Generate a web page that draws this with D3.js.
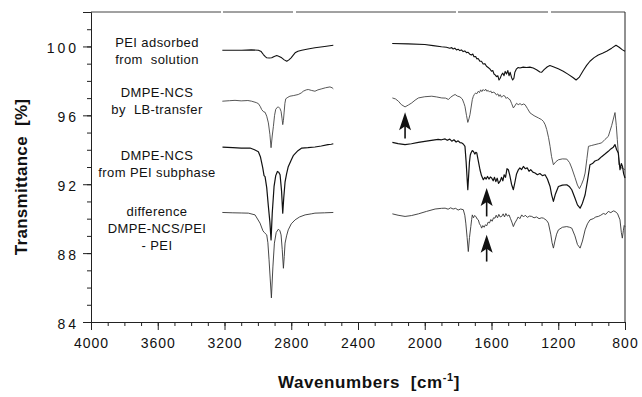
<!DOCTYPE html>
<html>
<head>
<meta charset="utf-8">
<script src="https://cdn.jsdelivr.net/npm/d3@7"></script>
<style>
  body { margin: 0; background: #fff; }
  svg { display: block; }
  text { font-family: "Liberation Sans", Arial, Helvetica, sans-serif; fill: #111; white-space: pre; }
</style>
</head>
<body>
<svg id="chart" width="642" height="397"></svg>
<script>
// axis ticks
const xTicks = [4000, 3600, 3200, 2800, 2400, 2000, 1600, 1200, 800];
const yTicks = [84, 88, 92, 96, 100];

// spectra: [wavenumber, transmittance], each split at the 2550-2200 gap
const peiA = [[3213,99.78],[3150,99.78],[3097,99.78],[3040,99.8],[2997,99.78],[2980,99.7],[2967,99.53],[2957,99.42],[2947,99.34],[2932,99.33],[2917,99.34],[2902,99.42],[2887,99.47],[2872,99.42],[2857,99.34],[2842,99.22],[2827,99.14],[2814,99.22],[2801,99.34],[2788,99.5],[2777,99.63],[2760,99.72],[2737,99.78],[2700,99.85],[2658,99.92],[2600,100.0],[2548,100.07]];
const peiB = [[2195,100.17],[2100,100.15],[2000,100.11],[1950,100.05],[1900,99.98],[1870,99.95],[1850,99.9],[1838,99.93],[1830,99.85],[1820,99.9],[1810,99.8],[1800,99.84],[1790,99.76],[1780,99.8],[1770,99.7],[1760,99.74],[1750,99.64],[1740,99.66],[1730,99.55],[1720,99.5],[1712,99.56],[1705,99.4],[1695,99.42],[1688,99.28],[1680,99.3],[1670,99.15],[1660,99.14],[1650,98.98],[1640,99.0],[1630,98.85],[1620,98.78],[1610,98.7],[1600,98.56],[1592,98.6],[1585,98.4],[1578,98.35],[1570,98.25],[1562,98.3],[1555,98.05],[1548,98.15],[1540,98.35],[1532,98.45],[1525,98.3],[1518,98.55],[1510,98.4],[1502,98.6],[1495,98.3],[1488,98.5],[1480,98.2],[1473,98.05],[1466,98.15],[1460,98.5],[1450,98.7],[1440,98.78],[1430,98.75],[1410,98.8],[1390,98.78],[1370,98.8],[1350,98.75],[1330,98.65],[1310,98.52],[1300,98.5],[1285,98.65],[1265,98.82],[1250,98.89],[1230,98.82],[1200,98.7],[1170,98.56],[1140,98.38],[1110,98.18],[1093,98.05],[1075,98.2],[1050,98.6],[1030,98.9],[1010,99.14],[985,99.35],[960,99.5],[935,99.6],[910,99.72],[880,99.9],[854,100.07],[835,99.95],[815,99.8],[800,99.72]];

const lbA = [[3213,96.82],[3170,96.85],[3137,96.87],[3100,96.84],[3060,96.86],[3037,96.82],[3010,96.74],[2997,96.68],[2985,96.5],[2977,96.33],[2965,96.2],[2957,96.18],[2947,95.95],[2937,95.56],[2928,94.9],[2921,94.12],[2914,94.8],[2907,95.36],[2900,96.0],[2893,96.35],[2883,96.47],[2877,96.49],[2868,96.4],[2861,96.23],[2855,95.8],[2851,95.46],[2847,95.7],[2843,96.14],[2838,96.7],[2833,96.96],[2820,97.05],[2808,97.11],[2785,97.15],[2758,97.21],[2740,97.3],[2728,97.4],[2710,97.48],[2698,97.5],[2680,97.45],[2658,97.4],[2640,97.48],[2617,97.54],[2595,97.6],[2568,97.65],[2555,97.6],[2548,97.54]];
const lbB = [[2194,97.01],[2175,96.95],[2158,96.82],[2140,96.62],[2118,96.49],[2098,96.6],[2078,96.72],[2058,96.88],[2038,97.01],[2000,97.08],[1958,97.11],[1930,97.07],[1898,97.01],[1875,97.0],[1858,96.92],[1845,97.05],[1830,97.15],[1818,97.21],[1805,97.12],[1789,97.07],[1775,96.95],[1765,96.7],[1759,96.52],[1750,96.0],[1742,95.59],[1735,95.8],[1729,96.04],[1720,96.6],[1715,96.91],[1709,97.1],[1703,97.21],[1695,97.3],[1688,97.25],[1679,97.4],[1672,97.32],[1665,97.48],[1658,97.38],[1650,97.5],[1642,97.42],[1635,97.52],[1628,97.4],[1620,97.45],[1612,97.35],[1605,97.42],[1598,97.3],[1590,97.35],[1579,97.3],[1570,97.18],[1562,97.25],[1555,97.1],[1548,97.2],[1540,97.05],[1530,97.15],[1519,97.11],[1512,96.98],[1505,97.05],[1497,96.95],[1489,96.91],[1480,96.7],[1469,96.43],[1460,96.55],[1450,96.7],[1440,96.62],[1429,96.68],[1418,96.6],[1410,96.66],[1399,96.62],[1385,96.4],[1369,96.14],[1345,95.98],[1319,95.85],[1300,95.75],[1289,95.65],[1278,95.45],[1269,95.17],[1258,94.7],[1249,94.2],[1240,93.6],[1229,93.13],[1215,93.3],[1199,93.42],[1175,93.47],[1149,93.46],[1132,93.25],[1119,92.94],[1100,92.4],[1085,91.95],[1073,91.74],[1060,92.0],[1048,92.3],[1039,92.65],[1028,93.5],[1019,94.2],[1000,94.25],[980,94.3],[960,94.35],[940,94.4],[920,94.6],[900,94.78],[880,95.4],[860,96.16],[852,95.4],[846,94.59],[840,93.8],[836,93.13],[824,92.96],[810,92.9],[800,92.84]];

const subA = [[3212,94.15],[3150,94.12],[3100,94.1],[3047,94.1],[3020,94.0],[2997,93.89],[2985,93.6],[2971,92.96],[2963,92.5],[2957,92.44],[2947,91.8],[2937,90.71],[2928,89.8],[2921,88.77],[2914,90.3],[2903,91.87],[2893,92.5],[2883,92.74],[2875,92.7],[2867,92.55],[2858,91.6],[2851,90.32],[2845,91.2],[2837,92.14],[2828,92.6],[2818,93.02],[2800,93.4],[2788,93.66],[2760,93.95],[2737,94.1],[2700,94.12],[2658,94.16],[2620,94.22],[2580,94.3],[2560,94.32],[2548,94.35]];
const subB = [[2194,94.43],[2160,94.36],[2118,94.3],[2080,94.35],[2038,94.43],[1990,94.5],[1950,94.56],[1920,94.6],[1900,94.58],[1878,94.63],[1865,94.55],[1850,94.62],[1838,94.5],[1825,94.58],[1812,94.45],[1800,94.52],[1789,94.42],[1778,94.4],[1768,94.32],[1759,94.2],[1752,93.3],[1746,92.3],[1742,91.68],[1737,92.5],[1732,93.3],[1727,93.7],[1723,93.81],[1716,93.95],[1709,93.91],[1700,93.75],[1694,93.85],[1688,93.81],[1680,93.4],[1674,93.1],[1669,92.84],[1660,92.5],[1649,92.26],[1640,92.4],[1632,92.3],[1624,92.45],[1615,92.3],[1607,92.42],[1599,92.36],[1590,92.2],[1582,92.4],[1574,92.15],[1566,92.35],[1558,92.05],[1549,92.16],[1540,92.4],[1532,92.2],[1524,92.55],[1516,92.4],[1507,92.9],[1499,92.84],[1490,92.5],[1480,92.0],[1469,91.68],[1460,92.1],[1450,92.6],[1439,92.84],[1430,92.95],[1420,92.85],[1409,93.03],[1398,92.9],[1386,92.95],[1375,92.75],[1365,92.85],[1352,92.7],[1339,92.65],[1325,92.55],[1310,92.62],[1295,92.5],[1279,92.55],[1265,92.3],[1249,91.87],[1240,91.4],[1229,91.0],[1218,91.4],[1199,91.87],[1175,91.95],[1149,91.97],[1132,91.85],[1119,91.68],[1100,91.2],[1085,90.8],[1069,90.61],[1055,90.9],[1039,91.39],[1025,92.2],[1010,93.13],[995,93.2],[980,93.35],[960,93.42],[940,93.6],[920,93.75],[900,93.91],[885,94.05],[870,94.15],[860,94.3],[850,94.0],[840,93.81],[830,92.84],[822,93.2],[815,93.03],[808,92.6],[800,92.36]];

const diffA = [[3213,90.36],[3150,90.34],[3100,90.33],[3057,90.32],[3017,90.22],[2987,89.74],[2970,89.3],[2961,89.19],[2947,89.06],[2940,88.6],[2933,87.61],[2926,86.5],[2919,85.4],[2910,87.2],[2901,88.58],[2890,89.2],[2877,89.39],[2868,89.3],[2861,89.06],[2854,88.2],[2847,87.12],[2842,87.8],[2837,88.58],[2828,89.0],[2818,89.35],[2800,89.7],[2777,89.93],[2750,90.1],[2717,90.22],[2680,90.28],[2658,90.32],[2600,90.34],[2548,90.36]];
const diffB = [[2194,90.28],[2160,90.2],[2118,90.13],[2080,90.18],[2038,90.28],[1990,90.42],[1938,90.56],[1900,90.6],[1878,90.61],[1860,90.55],[1845,90.63],[1830,90.56],[1815,90.6],[1800,90.5],[1785,90.56],[1769,90.52],[1760,90.2],[1754,89.74],[1746,88.9],[1739,88.09],[1732,88.9],[1724,89.54],[1719,89.95],[1715,90.22],[1708,90.05],[1702,90.18],[1694,90.13],[1686,89.98],[1679,89.93],[1672,89.7],[1665,89.6],[1659,89.45],[1652,89.6],[1644,89.5],[1636,89.65],[1629,89.58],[1620,89.8],[1612,89.75],[1604,89.95],[1596,89.85],[1588,90.05],[1579,90.03],[1572,90.2],[1564,90.05],[1556,90.25],[1548,90.1],[1539,90.13],[1530,90.28],[1522,90.1],[1514,90.3],[1505,90.15],[1495,90.22],[1486,90.0],[1478,89.8],[1469,89.54],[1460,89.75],[1449,89.93],[1440,90.1],[1430,90.0],[1419,90.22],[1408,90.1],[1398,90.2],[1385,90.08],[1372,90.15],[1359,90.13],[1345,90.05],[1330,90.1],[1315,90.0],[1300,90.05],[1289,90.03],[1270,89.9],[1259,89.74],[1245,89.1],[1237,88.6],[1229,88.29],[1220,88.7],[1210,89.1],[1199,89.35],[1175,89.5],[1149,89.54],[1132,89.5],[1119,89.45],[1100,89.0],[1085,88.5],[1069,88.29],[1055,88.7],[1039,89.35],[1025,89.7],[1010,89.93],[990,90.0],[975,90.1],[960,90.13],[945,90.2],[930,90.3],[915,90.25],[900,90.42],[885,90.35],[870,90.45],[860,90.42],[845,90.3],[830,89.93],[822,89.2],[816,88.87],[810,89.3],[805,89.6],[800,89.54]];

// trace captions (left of the curves)
const labelLines = [
  ["PEI adsorbed", "from  solution"],
  ["DMPE-NCS", "by  LB-transfer"],
  ["DMPE-NCS", "from PEI subphase"],
  ["difference", "DMPE-NCS/PEI", "- PEI"]
];
// arrows: wavenumber, tip value, tail value
const arrowPos = [[2118, 96.18, 94.65], [1629, 91.78, 90.13], [1629, 89.06, 87.51]];

const W = 642, H = 397;
const margin = { top: 12, right: 17, bottom: 75, left: 91 };
const svg = d3.select("#chart");

const x = d3.scaleLinear().domain([4000, 800]).range([margin.left, W - margin.right]);
const y = d3.scaleLinear().domain([84, 102]).range([H - margin.bottom, margin.top]);

// frame: top + right lines (top one is a bit broken in the scan)
svg.append("line")
  .attr("x1", x(4000)).attr("x2", x(800))
  .attr("y1", y(102)).attr("y2", y(102))
  .attr("stroke", "#444").attr("stroke-width", 1)
  .attr("stroke-dasharray", "130,2,70,3,160,2,90,3");
svg.append("line")
  .attr("x1", x(800)).attr("x2", x(800))
  .attr("y1", y(102)).attr("y2", y(84))
  .attr("stroke", "#222").attr("stroke-width", 1);

// x axis (major + minor)
const xAxis = svg.append("g").attr("transform", `translate(0,${y(84)})`);
xAxis.call(d3.axisBottom(x).tickValues(xTicks).tickSize(8).tickFormat(d3.format("d")));
svg.append("g").attr("transform", `translate(0,${y(84)})`)
  .call(d3.axisBottom(x).tickValues(d3.range(4000, 799, -100)).tickSize(4).tickFormat(""))
  .select(".domain").remove();
xAxis.selectAll("text")
  .attr("font-size", 14).attr("letter-spacing", 1)
  .attr("dy", "1.05em")
  .style("font-family", '"Liberation Sans", Arial, sans-serif');

// y axis (major + minor)
const yAxis = svg.append("g").attr("transform", `translate(${x(4000)},0)`);
yAxis.call(d3.axisLeft(y).tickValues(yTicks).tickSize(8));
svg.append("g").attr("transform", `translate(${x(4000)},0)`)
  .call(d3.axisLeft(y).tickValues(d3.range(84, 102.5, 1)).tickSize(4).tickFormat(""))
  .select(".domain").remove();
yAxis.selectAll("text")
  .attr("font-size", 14).attr("letter-spacing", 3)
  .attr("x", -12).attr("dy", "0.45em")
  .style("font-family", '"Liberation Sans", Arial, sans-serif');

svg.selectAll(".domain").attr("stroke", "#222");
svg.selectAll(".tick line").attr("stroke", "#222");

// axis titles
svg.append("text")
  .attr("transform", `translate(${27},${(y(84) + y(102)) / 2 + 10}) rotate(-90)`)
  .attr("text-anchor", "middle")
  .attr("font-size", 17).attr("font-weight", "bold").attr("letter-spacing", 0.3)
  .text("Transmittance  [%]");

const xt = svg.append("text")
  .attr("x", 369).attr("y", 388)
  .attr("text-anchor", "middle")
  .attr("font-size", 17).attr("font-weight", "bold").attr("letter-spacing", 0.6);
xt.append("tspan").text("Wavenumbers  [cm");
xt.append("tspan").attr("font-size", 11).attr("dy", -7).text("-1");
xt.append("tspan").attr("dy", 7).text("]");

// spectra
const line = d3.line().x(d => x(d[0])).y(d => y(d[1]));
const traces = [
  { segs: [peiA, peiB], color: "#111", width: 1.1 },
  { segs: [lbA, lbB], color: "#444", width: 0.9 },
  { segs: [subA, subB], color: "#111", width: 1.2 },
  { segs: [diffA, diffB], color: "#333", width: 0.9 }
];
traces.forEach(t => {
  t.segs.forEach(seg => {
    svg.append("path")
      .attr("d", line(seg))
      .attr("fill", "none")
      .attr("stroke", t.color)
      .attr("stroke-width", t.width)
      .attr("stroke-linejoin", "round");
  });
});

// captions
const labelTop = [47, 97, 160, 216];
labelLines.forEach((lines, i) => {
  lines.forEach((s, j) => {
    svg.append("text")
      .attr("x", 157).attr("y", labelTop[i] + j * 17)
      .attr("text-anchor", "middle")
      .attr("font-size", 13).attr("letter-spacing", 0.4)
      .text(s);
  });
});

// arrows
arrowPos.forEach(a => {
  const ax = x(a[0]), tip = y(a[1]), tail = y(a[2]);
  svg.append("line")
    .attr("x1", ax).attr("x2", ax).attr("y1", tip + 12).attr("y2", tail)
    .attr("stroke", "#111").attr("stroke-width", 1.6);
  svg.append("path")
    .attr("d", `M${ax},${tip} L${ax + 6},${tip + 18} L${ax},${tip + 14} L${ax - 6},${tip + 18} Z`)
    .attr("fill", "#111");
});
</script>
</body>
</html>
